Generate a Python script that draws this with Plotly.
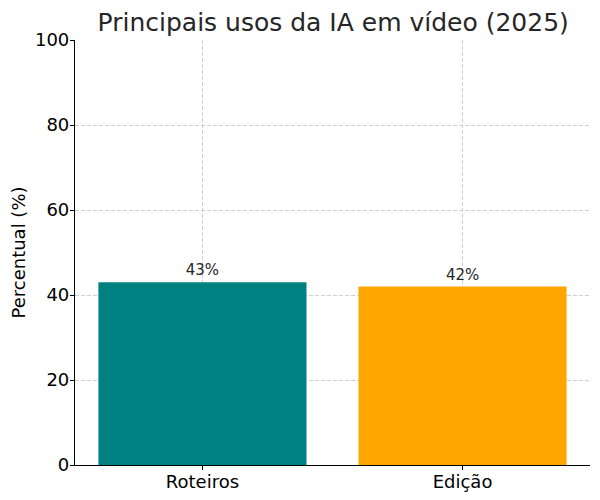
import plotly.graph_objects as go

# Data
categorias = ["Roteiros", "Edição"]
percentuais = [43, 42]
cores = ["#008080", "#FFA500"]
rotulos = [f"{v}%" for v in percentuais]
y_ticks = [0, 20, 40, 60, 80, 100]

fig = go.Figure(
    go.Bar(
        x=categorias,
        y=percentuais,
        marker=dict(color=cores, line=dict(width=0)),
        width=0.8,
        text=rotulos,
        textposition="outside",
        textfont=dict(family="DejaVu Sans", size=15, color="#262626"),
        cliponaxis=False,
    )
)

# the page body adds an 8px offset, so margins are shifted to compensate
fig.update_layout(
    width=600,
    height=500,
    margin=dict(l=67, r=18, t=32, b=43),
    paper_bgcolor="white",
    plot_bgcolor="white",
    font=dict(family="DejaVu Sans", color="black"),
    title=dict(
        text="Principais usos da IA em vídeo (2025)",
        x=0.542,
        xanchor="center",
        y=0.972,
        yanchor="middle",
        font=dict(size=25, color="#262626"),
    ),
    showlegend=False,
)

grade = dict(showgrid=True, gridcolor="#d0d0d0", griddash="4px,2px", gridwidth=1)

fig.update_xaxes(
    range=[-0.49, 1.49],
    automargin=False,
    showline=True,
    linecolor="black",
    linewidth=1.2,
    ticks="outside",
    ticklen=4,
    tickcolor="black",
    tickfont=dict(size=18),
    ticklabelstandoff=-4,
    layer="above traces",
    **grade,
)

fig.update_yaxes(
    range=[0, 100],
    tickvals=y_ticks,
    automargin=False,
    showline=True,
    linecolor="black",
    linewidth=1.2,
    ticks="outside",
    ticklen=4,
    tickcolor="black",
    tickfont=dict(size=18),
    ticklabelstandoff=-3,
    zeroline=False,
    layer="above traces",
    title=dict(text="Percentual (%)", font=dict(size=18), standoff=14),
    **grade,
)

fig.write_html("out.html")
